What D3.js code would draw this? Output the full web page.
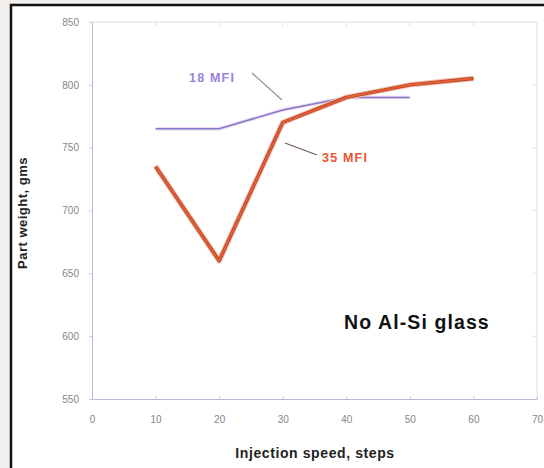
<!DOCTYPE html>
<html>
<head>
<meta charset="utf-8">
<script src="https://cdn.jsdelivr.net/npm/d3@7"></script>
<style>
  body { margin: 0; background: #f3efed; }
  svg { display: block; font-family: Arial, "Liberation Sans", sans-serif; }
</style>
</head>
<body>
<div id="chart"></div>
<script>
const xTicks = [0, 10, 20, 30, 40, 50, 60, 70];
const yTicks = [550, 600, 650, 700, 750, 800, 850];

const speed18 = [10, 20, 30, 40, 50];
const weight18 = [765, 765, 780, 790, 790];

const speed35 = [10, 20, 30, 40, 50, 60];
const weight35 = [735, 660, 770, 790, 800, 805];

const width = 544, height = 468;

const svg = d3.select('#chart')
    .append('svg')
    .attr('width', width)
    .attr('height', height);

// Outer black frame (runs past right and bottom edges)
svg.append('rect')
    .attr('x', 11).attr('y', 5)
    .attr('width', 700).attr('height', 700)
    .attr('fill', '#fff')
    .attr('stroke', '#111')
    .attr('stroke-width', 2.5);

const x = d3.scaleLinear().domain([0, 70]).range([92, 537]);
const y = d3.scaleLinear().domain([550, 850]).range([399, 22]);

const axisColor = '#b4bcdf';
const boxColor = '#dcdee8';

// Top and right edges of plot box
svg.append('path')
    .attr('d', `M${x(0)},${y(850)}H${x(70)}V${y(550)}`)
    .attr('fill', 'none')
    .attr('stroke', boxColor);

// Axes
const xAxis = svg.append('g')
    .attr('transform', `translate(0,${y(550)})`)
    .call(d3.axisBottom(x).tickValues(xTicks).tickSize(-3).tickPadding(17));
const yAxis = svg.append('g')
    .attr('transform', `translate(${x(0)},0)`)
    .call(d3.axisLeft(y).tickValues(yTicks).tickSize(3).tickPadding(10));

[xAxis, yAxis].forEach(g => {
    g.select('.domain').attr('stroke', axisColor);
    g.selectAll('.tick line').attr('stroke', '#c9cde0');
    g.selectAll('.tick text')
        .attr('fill', '#858585')
        .style('font-size', '10px');
});

// Ticks on top and right edges
svg.append('g')
    .selectAll('line')
    .data(xTicks.slice(1, -1))
    .join('line')
    .attr('x1', d => x(d)).attr('x2', d => x(d))
    .attr('y1', y(850)).attr('y2', y(850) + 4)
    .attr('stroke', boxColor);
svg.append('g')
    .selectAll('line')
    .data(yTicks.slice(1, -1))
    .join('line')
    .attr('x1', x(70)).attr('x2', x(70) - 4)
    .attr('y1', d => y(d)).attr('y2', d => y(d))
    .attr('stroke', boxColor);

const line = d3.line()
    .x(d => x(d[0]))
    .y(d => y(d[1]));

// 18 MFI series
svg.append('path')
    .datum(d3.zip(speed18, weight18))
    .attr('fill', 'none')
    .attr('stroke', '#f0d8f0')
    .attr('stroke-width', 3.5)
    .attr('d', line);
svg.append('path')
    .datum(d3.zip(speed18, weight18))
    .attr('fill', 'none')
    .attr('stroke', '#8579cc')
    .attr('stroke-width', 1.5)
    .attr('d', line);

// 35 MFI series
const data35 = d3.zip(speed35, weight35);
svg.append('path')
    .datum(data35)
    .attr('fill', 'none')
    .attr('stroke', '#f6c0b0')
    .attr('stroke-width', 5.5)
    .attr('stroke-linejoin', 'round')
    .attr('d', line);
svg.append('path')
    .datum(data35)
    .attr('fill', 'none')
    .attr('stroke', '#b0482c')
    .attr('stroke-width', 3.4)
    .attr('stroke-linejoin', 'round')
    .attr('d', line);
svg.append('path')
    .datum(data35)
    .attr('fill', 'none')
    .attr('stroke', '#ee6034')
    .attr('stroke-width', 1.6)
    .attr('stroke-linejoin', 'round')
    .attr('d', line);

// Annotations
svg.append('line')
    .attr('x1', 252).attr('y1', 73)
    .attr('x2', 282).attr('y2', 100)
    .attr('stroke', '#8a8f9a').attr('stroke-width', 1.2);
svg.append('text')
    .attr('x', 189).attr('y', 82)
    .attr('fill', '#9b80e2')
    .style('font-size', '12.5px')
    .style('font-weight', 'bold')
    .style('letter-spacing', '1.2px')
    .text('18 MFI');

svg.append('line')
    .attr('x1', 285).attr('y1', 143)
    .attr('x2', 317).attr('y2', 155)
    .attr('stroke', '#6f5a58').attr('stroke-width', 1.2);
svg.append('text')
    .attr('x', 322).attr('y', 162)
    .attr('fill', '#ea5530')
    .style('font-size', '12.5px')
    .style('font-weight', 'bold')
    .style('letter-spacing', '1.2px')
    .text('35 MFI');

svg.append('text')
    .attr('x', 344).attr('y', 329)
    .attr('fill', '#111')
    .style('font-size', '19.5px')
    .style('font-weight', 'bold')
    .style('letter-spacing', '1.1px')
    .text('No Al-Si glass');

// Axis titles
svg.append('text')
    .attr('x', 315).attr('y', 458)
    .attr('text-anchor', 'middle')
    .attr('fill', '#222')
    .style('font-size', '14px')
    .style('font-weight', 'bold')
    .style('letter-spacing', '0.6px')
    .text('Injection speed, steps');

svg.append('text')
    .attr('transform', `translate(27,213) rotate(-90)`)
    .attr('text-anchor', 'middle')
    .attr('fill', '#222')
    .style('font-size', '13px')
    .style('font-weight', 'bold')
    .style('letter-spacing', '0.5px')
    .text('Part weight, gms');
</script>
</body>
</html>
